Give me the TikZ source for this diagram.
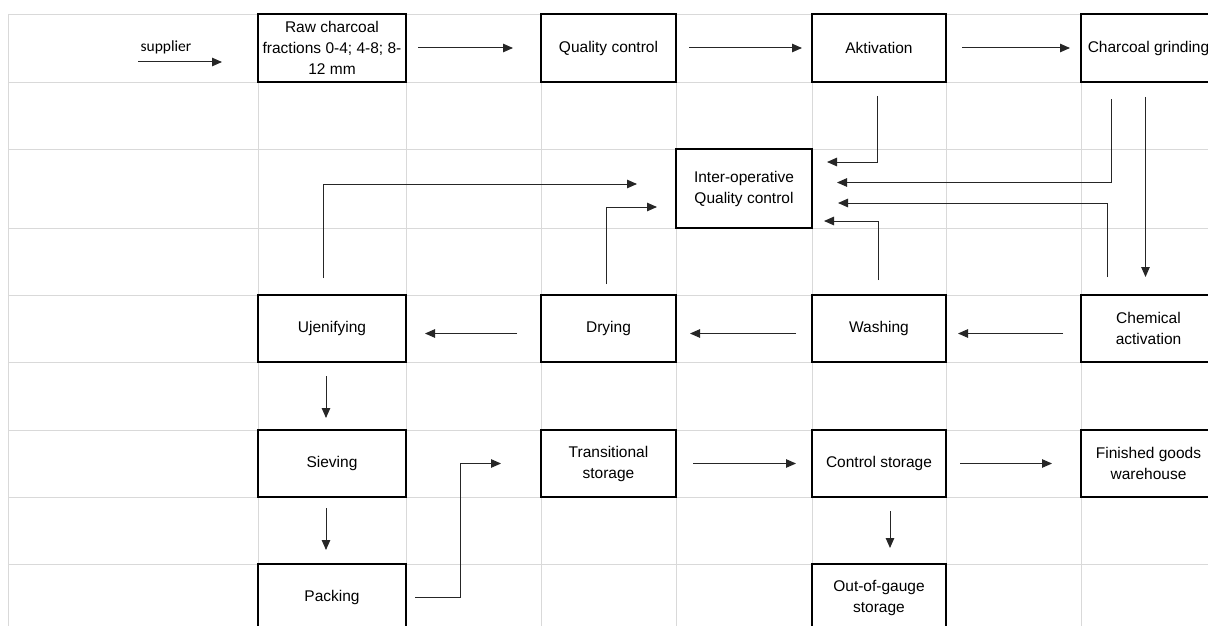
\documentclass[tikz,border=0pt]{standalone}
\usepackage{fontspec}
\setmainfont{Liberation Sans}
\newfontfamily\supplierfont{Carlito}
\usetikzlibrary{arrows.meta,calc}
\tikzset{>={Triangle[length=10pt,width=8.5pt]}}
\tikzset{
  gridline/.style={draw=black!15, line width=0.8pt},
  stage/.style={draw, line width=2pt, inner sep=0pt, outer sep=0pt, minimum width=135pt,
    minimum height=67pt, align=center, font=\fontsize{15.5}{21}\selectfont},
  flow/.style={->, draw=black!85, line width=1pt},
}
\begin{document}
\begin{tikzpicture}[x=1pt,y=-1pt]
        \clip (0,0) rectangle (1208,626);
        \fill[white] (0,0) rectangle (1208,626);
        % sheet grid
        \foreach \gx in {8,258,406,541,676,812,946,1081}
          \draw[gridline] (\gx,14) -- (\gx,626);
        \foreach \gy in {14,82,149,228,295,362,430,497,564}
          \draw[gridline] (8,\gy) -- (1208,\gy);
        % stages
        \node[stage, minimum width=148pt, minimum height=68pt] (raw) at (332,48) {Raw charcoal\\fractions 0-4; 4-8; 8-\\12 mm};
        \node[stage, minimum height=68pt] (qc) at (608.5,48) {Quality control};
        \node[stage, minimum width=134pt, minimum height=68pt] (akt) at (879,48) {Aktivation};
        \node[stage, minimum height=68pt] (grind) at (1148.5,48) {Charcoal grinding};
        \node[stage, minimum width=136pt, minimum height=79pt] (iqc) at (744,188.5) {Inter-operative\\Quality control};
        \node[stage, minimum width=148pt] (ujen) at (332,328.5) {Ujenifying};
        \node[stage] (dry) at (608.5,328.5) {Drying};
        \node[stage, minimum width=134pt] (wash) at (879,328.5) {Washing};
        \node[stage] (chem) at (1148.5,328.5) {Chemical\\activation};
        \node[stage, minimum width=148pt] (siev) at (332,463.5) {Sieving};
        \node[stage] (trans) at (608.5,463.5) {Transitional\\storage};
        \node[stage, minimum width=134pt] (ctrl) at (879,463.5) {Control storage};
        \node[stage] (fin) at (1148.5,463.5) {Finished goods\\warehouse};
        \node[stage, minimum width=148pt] (pack) at (332,597.5) {Packing};
        \node[stage, minimum width=134pt] (oog) at (879,597.5) {Out-of-gauge\\storage};
        % supplier
        \coordinate (src) at (138,62);
        \node[font=\supplierfont\fontsize{15.5}{18}\selectfont] (suplabel) at (166,47) {supplier};
        \draw[flow, shorten >=36pt] (src) -- (src -| raw.west);
        % top row
        \draw[flow, shorten <=12pt, shorten >=28pt] (raw) -- (qc);
        \draw[flow, shorten <=13pt, shorten >=10pt] (qc) -- (akt);
        \draw[flow, shorten <=16pt, shorten >=11pt] (akt) -- (grind);
        % into inter-operative control
        \draw[flow, shorten <=14pt, shorten >=15pt] ([xshift=-2pt]akt.south) |- ($(iqc.east)+(0,-26.5)$);
        \draw[flow, shorten <=17pt, shorten >=25pt] ([xshift=-37pt]grind.south) |- ($(iqc.east)+(0,-6)$);
        \draw[flow, shorten <=18pt, shorten >=26pt] ([xshift=-41pt]chem.north) |- ($(iqc.east)+(0,14.5)$);
        \draw[flow, shorten <=15pt, shorten >=12pt] ([xshift=-1pt]wash.north) |- ($(iqc.east)+(0,32.5)$);
        \draw[flow, shorten <=17pt, shorten >=39pt] ([xshift=-9pt]ujen.north) |- ($(iqc.west)+(0,-4.5)$);
        \draw[flow, shorten <=11pt, shorten >=19pt] ([xshift=-2.5pt]dry.north) |- ($(iqc.west)+(0,18.5)$);
        \draw[flow, shorten <=15pt, shorten >=18pt] ([xshift=-3pt]grind.south) -- ([xshift=-3pt]chem.north);
        % middle row
        \draw[flow, shorten <=18pt, shorten >=12pt] ($(chem.west)+(0,5)$) -- ($(wash.east)+(0,5)$);
        \draw[flow, shorten <=16pt, shorten >=14pt] ($(wash.west)+(0,5)$) -- ($(dry.east)+(0,5)$);
        \draw[flow, shorten <=24pt, shorten >=19pt] ($(dry.west)+(0,5)$) -- ($(ujen.east)+(0,5)$);
        % lower part
        \draw[flow, shorten <=14pt, shorten >=12pt] ([xshift=-6pt]ujen.south) -- ([xshift=-6pt]siev.north);
        \draw[flow, shorten <=11pt, shorten >=14pt] ([xshift=-6pt]siev.south) -- ([xshift=-6pt]pack.north);
        \draw[flow, shorten <=9pt, shorten >=40pt] (pack.east) -- ++(54,0) |- (trans.west);
        \draw[flow, shorten <=17pt, shorten >=16pt] (trans) -- (ctrl);
        \draw[flow, shorten <=14pt, shorten >=29pt] (ctrl) -- (fin);
        \draw[flow, shorten <=14pt, shorten >=16pt] ([xshift=11pt]ctrl.south) -- ([xshift=11pt]oog.north);
\end{tikzpicture}
\end{document}
